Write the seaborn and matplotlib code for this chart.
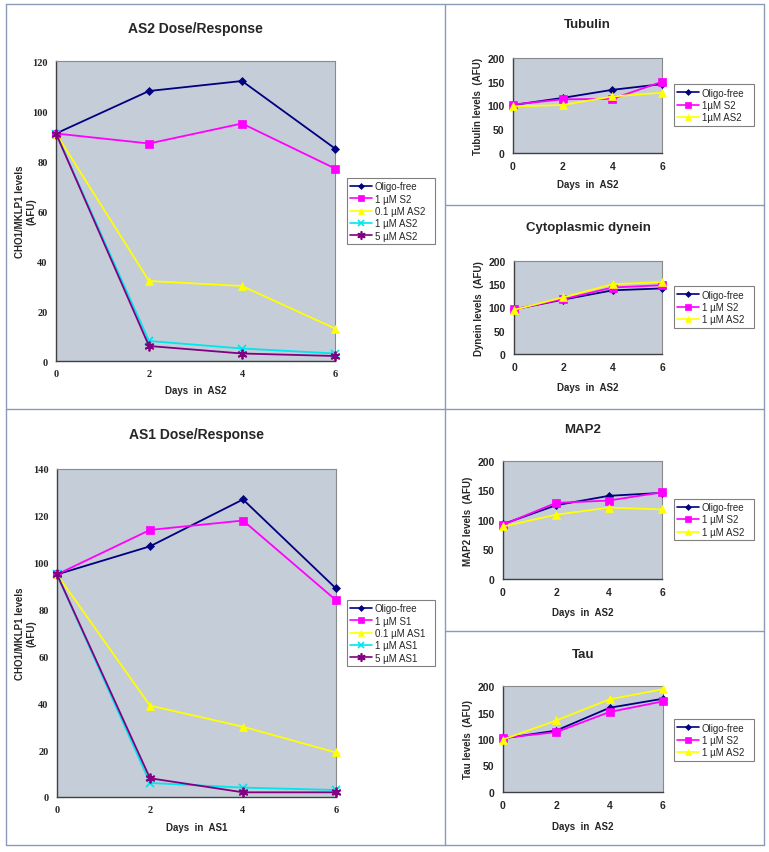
import pandas as pd
import matplotlib.pyplot as plt
import seaborn as sns
from matplotlib.lines import Line2D

# data
days = [0, 2, 4, 6]

as2_names = ['Oligo-free', '1 µM S2', '0.1 µM AS2', '1 µM AS2', '5 µM AS2']
as2_oligo = [91, 108, 112, 85]
as2_s2 = [91, 87, 95, 77]
as2_01 = [91, 32, 30, 13]
as2_1 = [91, 8, 5, 3]
as2_5 = [91, 6, 3, 2]

as1_names = ['Oligo-free', '1 µM S1', '0.1 µM AS1', '1 µM AS1', '5 µM AS1']
as1_oligo = [95, 107, 127, 89]
as1_s1 = [95, 114, 118, 84]
as1_01 = [95, 39, 30, 19]
as1_1 = [95, 6, 4, 3]
as1_5 = [95, 8, 2, 2]

tub_names = ['Oligo-free', '1µM S2', '1µM AS2']
tub_oligo = [101, 116, 133, 145]
tub_s2 = [102, 113, 114, 150]
tub_as2 = [98, 101, 119, 127]

small_names = ['Oligo-free', '1 µM S2', '1 µM AS2']
dyn_oligo = [96, 117, 137, 141]
dyn_s2 = [96, 118, 143, 148]
dyn_as2 = [95, 122, 150, 155]

map_oligo = [93, 125, 141, 146]
map_s2 = [92, 129, 133, 147]
map_as2 = [89, 109, 121, 118]

tau_oligo = [101, 116, 159, 176]
tau_s2 = [102, 113, 151, 171]
tau_as2 = [99, 135, 175, 194]

colors = ['#000080', '#ff00ff', '#ffff00', '#00e5ee', '#800080']
marks = ['D', 's', '^', 'x', (6, 2, 0)]
msizes = [4, 6, 6, 6, 7]

sns.set_theme(style="white")
plt.rcParams['font.family'] = ['Liberation Sans', 'DejaVu Sans']

W, H = 769, 853
fig = plt.figure(figsize=(W / 100, H / 100), dpi=100)
fig.patch.set_facecolor('white')

def px_axes(l, t, r, b):
    return fig.add_axes([l / W, 1 - b / H, (r - l) / W, (b - t) / H])

def draw(ax, names, series, ymax, ystep, title, ylabel, xlabel, big, leg_box, title_y, xl_y, yl_x):
    k = len(names)
    for i, (n, vals) in enumerate(zip(names, series)):
        df = pd.DataFrame({'day': days, 'value': vals})
        sns.lineplot(data=df, x='day', y='value', color=colors[i], marker=marks[i],
                     markersize=msizes[i], markerfacecolor=colors[i],
                     markeredgecolor=colors[i], markeredgewidth=1.3 if i >= 3 else 0.5,
                     lw=1.3, ax=ax, label=n, legend=False, clip_on=False, zorder=3 + i)
    ax.set_facecolor('#c4cdd8')
    ax.set_xlim(0, 6)
    ax.set_ylim(0, ymax)
    ax.set_xticks(days)
    ax.set_yticks(range(0, ymax + 1, ystep))
    for s in ['left', 'bottom']:
        ax.spines[s].set_color('#404040')
        ax.spines[s].set_linewidth(1.0)
    for s in ['top', 'right']:
        ax.spines[s].set_color('#8a8a8a')
        ax.spines[s].set_linewidth(0.8)
    ax.set_xlabel('')
    ax.set_ylabel('')
    if big:
        ax.tick_params(axis='both', direction='out', length=2, width=0.8, color='#404040',
                       labelsize=7.5, pad=4)
        for t in ax.get_xticklabels() + ax.get_yticklabels():
            t.set_fontfamily('Liberation Serif')
            t.set_fontweight('bold')
    else:
        ax.tick_params(axis='both', direction='out', length=3, width=0.8, color='#404040',
                       labelsize=7.5, pad=3)
        for t in ax.get_xticklabels() + ax.get_yticklabels():
            t.set_fontweight('bold')
    pos = ax.get_position()
    cx = (pos.x0 + pos.x1) / 2
    cy = (pos.y0 + pos.y1) / 2
    fig.text(cx, 1 - title_y / H, title, ha='center', va='center',
             fontsize=10 if big else 9.5, fontweight='bold')
    fig.text(cx, 1 - xl_y / H, xlabel, ha='center', va='center',
             fontsize=7, fontweight='bold')
    fig.text(yl_x / W, cy, ylabel, ha='center', va='center', rotation=90,
             fontsize=7, fontweight='bold', linespacing=1.2)
    # legend
    handles = [Line2D([0], [0], color=colors[i], marker=marks[i], markersize=msizes[i] - 1,
                      markerfacecolor=colors[i], markeredgecolor=colors[i],
                      markeredgewidth=1.2 if i >= 3 else 0.5, lw=1.2)
               for i in range(k)]
    l, t, r, b = leg_box
    leg = ax.legend(handles, names, loc='center left',
                    bbox_to_anchor=(l / W, 1 - b / H, (r - l) / W, (b - t) / H),
                    bbox_transform=fig.transFigure, mode='expand',
                    fontsize=7, frameon=True, fancybox=False, borderpad=0.35,
                    handlelength=2.2, handletextpad=0.3, labelspacing=0.25,
                    borderaxespad=0)
    leg.get_frame().set_edgecolor('#606060')
    leg.get_frame().set_linewidth(0.8)
    leg.get_frame().set_facecolor('white')

# left column
ax1 = px_axes(56, 62, 335, 362)
draw(ax1, as2_names, [as2_oligo, as2_s2, as2_01, as2_1, as2_5], 120, 20,
     'AS2 Dose/Response', 'CHO1/MKLP1 levels\n(AFU)', 'Days  in  AS2', True,
     (347, 173, 435, 251), 29, 391, 26)

ax2 = px_axes(57, 470, 336, 798)
draw(ax2, as1_names, [as1_oligo, as1_s1, as1_01, as1_1, as1_5], 140, 20,
     'AS1 Dose/Response', 'CHO1/MKLP1 levels\n(AFU)', 'Days  in  AS1', True,
     (347, 595, 435, 673), 435, 828, 26)

# right column
ax3 = px_axes(513, 59, 662, 154)
draw(ax3, tub_names, [tub_oligo, tub_s2, tub_as2], 200, 50,
     'Tubulin', 'Tubulin levels  (AFU)', 'Days  in  AS2', False,
     (674, 82, 754, 130), 25, 185, 478)

ax4 = px_axes(514, 262, 662, 355)
draw(ax4, small_names, [dyn_oligo, dyn_s2, dyn_as2], 200, 50,
     'Cytoplasmic dynein', 'Dynein levels  (AFU)', 'Days  in  AS2', False,
     (674, 284, 754, 332), 228, 388, 479)

ax5 = px_axes(503, 462, 662, 580)
draw(ax5, small_names, [map_oligo, map_s2, map_as2], 200, 50,
     'MAP2', 'MAP2 levels  (AFU)', 'Days  in  AS2', False,
     (674, 498, 754, 543), 430, 613, 468)

ax6 = px_axes(503, 687, 663, 793)
draw(ax6, small_names, [tau_oligo, tau_s2, tau_as2], 200, 50,
     'Tau', 'Tau levels  (AFU)', 'Days  in  AS2', False,
     (674, 721, 754, 761), 655, 827, 468)

# panel frame lines
lc = '#8c9ab8'
def seg(x0, y0, x1, y1):
    fig.add_artist(Line2D([x0 / W, x1 / W], [1 - y0 / H, 1 - y1 / H], color=lc, lw=1.0))

seg(6, 5, 764, 5)
seg(6, 846, 764, 846)
seg(6, 5, 6, 846)
seg(764, 5, 764, 846)
seg(445, 5, 445, 846)
seg(6, 410, 445, 410)
seg(445, 206, 764, 206)
seg(445, 410, 764, 410)
seg(445, 632, 764, 632)

plt.savefig("out.png", dpi=100)
